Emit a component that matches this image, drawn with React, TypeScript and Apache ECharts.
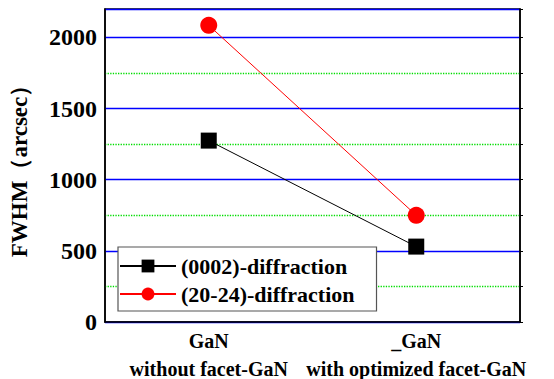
import React, { useEffect, useRef } from "react";
import * as echarts from "echarts";

const categories = ["GaN\nwithout facet-GaN", "_GaN\nwith optimized facet-GaN"];
const diff0002 = [1275, 530];
const diff2024 = [2085, 750];
const seriesNames = ["(0002)-diffraction", "(20-24)-diffraction"];

const FONT = "'Liberation Serif', 'Times New Roman', Times, serif";
const txt = (size: number) => ({ fontFamily: FONT, fontWeight: "bold", fontSize: size, color: "#000" });

export default function App() {
  const ref = useRef<HTMLDivElement>(null);
  useEffect(() => {
    if (!ref.current) return;
    const chart = echarts.init(ref.current, undefined, { renderer: "svg" });
    chart.setOption({
      animation: false,
      backgroundColor: "#fff",
      textStyle: txt(20),
      grid: {
        left: 105,
        right: 34,
        top: 9,
        bottom: 57,
        show: true,
        borderColor: "#000",
        borderWidth: 1.5,
      },
      legend: {
        orient: "vertical",
        left: 118,
        top: 247,
        padding: [8, 22, 6, 1],
        itemGap: 6,
        itemWidth: 56,
        itemHeight: 16,
        backgroundColor: "#fff",
        borderColor: "#555",
        borderWidth: 1.2,
        formatter: (n: string) => `{t|${n}}`,
        textStyle: { ...txt(22), rich: { t: txt(22) } },
        data: seriesNames,
      },
      xAxis: {
        type: "category",
        data: categories,
        boundaryGap: true,
        axisLine: { lineStyle: { color: "#000", width: 1.5 } },
        axisTick: { show: false },
        axisLabel: {
          interval: 0,
          ...txt(20),
          margin: 5,
          formatter: (v: string) =>
            v
              .split("\n")
              .map((s) => `{t|${s}}`)
              .join("\n"),
          rich: { t: { ...txt(20), lineHeight: 28 } },
        },
      },
      yAxis: [
        {
          type: "value",
          min: 0,
          max: 2200,
          interval: 500,
          name: "FWHM（arcsec）",
          nameLocation: "middle",
          nameGap: 74,
          nameTextStyle: txt(23),
          axisLine: { show: true, lineStyle: { color: "#000", width: 1.5 } },
          axisTick: { show: false },
          axisLabel: {
            ...txt(24),
            margin: 8,
            showMaxLabel: false,
            formatter: (v: number) => `{t|${v}}`,
            rich: { t: txt(24) },
          },
          splitLine: { show: true, lineStyle: { color: "#0000ff", width: 1.3 } },
          minorTick: { show: false, splitNumber: 2 },
          minorSplitLine: { show: true, lineStyle: { color: "#00dd00", type: "dotted", width: 1.3 } },
        },
        {
          type: "value",
          position: "right",
          min: 0,
          max: 2200,
          interval: 250,
          axisLine: { show: true, lineStyle: { color: "#000", width: 1.5 } },
          axisTick: { show: true, length: 3, lineStyle: { color: "#000" } },
          axisLabel: { show: false },
          splitLine: { show: false },
        },
      ],
      series: [
        {
          name: seriesNames[0],
          type: "line",
          data: diff0002,
          symbol: "rect",
          symbolSize: 16,
          itemStyle: { color: "#000" },
          lineStyle: { color: "#000", width: 1 },
        },
        {
          name: seriesNames[1],
          type: "line",
          data: diff2024,
          symbol: "circle",
          symbolSize: 17,
          itemStyle: { color: "#ff0000" },
          lineStyle: { color: "#ff0000", width: 1 },
        },
      ],
    });
    return () => chart.dispose();
  }, []);
  return <div ref={ref} style={{ width: 554, height: 379, position: "absolute", left: 0, top: 0 }} />;
}
